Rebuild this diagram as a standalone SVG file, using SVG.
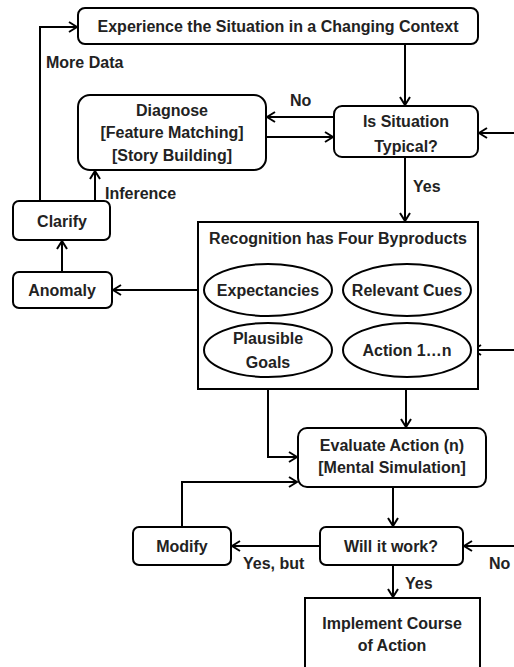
<svg xmlns="http://www.w3.org/2000/svg" width="514" height="667" viewBox="0 0 514 667">
<defs>
<style>
.box{fill:#fff;stroke:#000;stroke-width:2}
.t{font-family:"Liberation Sans",Arial,sans-serif;font-weight:bold;font-size:16px;fill:#222;text-anchor:middle;dominant-baseline:central}
.l{font-family:"Liberation Sans",Arial,sans-serif;font-weight:bold;font-size:16px;fill:#222;dominant-baseline:central}
.c{fill:none;stroke:#000;stroke-width:2}
</style>
<marker id="ah" viewBox="0 0 12 12" refX="11" refY="6" markerWidth="12" markerHeight="12" markerUnits="userSpaceOnUse" orient="auto">
<polyline points="3,1 11,6 3,11" fill="none" stroke="#000" stroke-width="2"/>
</marker>
</defs>
<rect width="514" height="667" fill="#fff"/>
<g id="connectors">
<polyline class="c" points="40,201 40,27 77,27" marker-end="url(#ah)"/>
<line class="c" x1="405" y1="44" x2="405" y2="105" marker-end="url(#ah)"/>
<line class="c" x1="334" y1="117" x2="267" y2="117" marker-end="url(#ah)"/>
<line class="c" x1="266" y1="137" x2="333" y2="137" marker-end="url(#ah)"/>
<line class="c" x1="514" y1="133" x2="479" y2="133" marker-end="url(#ah)"/>
<line class="c" x1="405" y1="157" x2="405" y2="221" marker-end="url(#ah)"/>
<line class="c" x1="95" y1="201" x2="95" y2="171" marker-end="url(#ah)"/>
<line class="c" x1="62" y1="272" x2="62" y2="241" marker-end="url(#ah)"/>
<line class="c" x1="204" y1="290" x2="113" y2="290" marker-end="url(#ah)"/>
<line class="c" x1="514" y1="350" x2="473" y2="350" marker-end="url(#ah)"/>
<line class="c" x1="406" y1="377" x2="406" y2="427" marker-end="url(#ah)"/>
<polyline class="c" points="268,377 268,457 297,457" marker-end="url(#ah)"/>
<polyline class="c" points="182,527 182,482 297,482" marker-end="url(#ah)"/>
<line class="c" x1="393" y1="487" x2="393" y2="526" marker-end="url(#ah)"/>
<line class="c" x1="320" y1="546" x2="232" y2="546" marker-end="url(#ah)"/>
<line class="c" x1="514" y1="546" x2="464" y2="546" marker-end="url(#ah)"/>
<line class="c" x1="393" y1="565" x2="393" y2="597" marker-end="url(#ah)"/>
<text class="l" x="46" y="62">More Data</text>
<text class="l" x="290" y="100">No</text>
<text class="l" x="413" y="186">Yes</text>
<text class="l" x="105" y="193">Inference</text>
<text class="l" x="243" y="563">Yes, but</text>
<text class="l" x="489" y="563">No</text>
<text class="l" x="405" y="583">Yes</text>
</g>
<g id="experience">
<rect class="box" x="78" y="8" width="400" height="36" rx="7"/>
<text class="t" x="278" y="26">Experience the Situation in a Changing Context</text>
</g>
<g id="typical">
<rect class="box" x="334" y="106" width="144" height="51" rx="8"/>
<text class="t" x="406" y="121">Is Situation</text>
<text class="t" x="406" y="146">Typical?</text>
</g>
<g id="diagnose">
<rect class="box" x="78" y="95" width="188" height="75" rx="12"/>
<text class="t" x="172" y="110">Diagnose</text>
<text class="t" x="172" y="132">[Feature Matching]</text>
<text class="t" x="172" y="155">[Story Building]</text>
</g>
<g id="clarify">
<rect class="box" x="13" y="201" width="97" height="39" rx="6"/>
<text class="t" x="62" y="221">Clarify</text>
</g>
<g id="anomaly">
<rect class="box" x="13" y="272" width="99" height="36" rx="6"/>
<text class="t" x="62" y="290">Anomaly</text>
</g>
<g id="recognition">
<rect class="box" x="198" y="222" width="280" height="167" stroke-width="2.5"/>
<text class="t" x="338" y="238">Recognition has Four Byproducts</text>
</g>
<g id="expectancies">
<ellipse class="box" cx="268" cy="290" rx="64" ry="26"/>
<text class="t" x="268" y="290">Expectancies</text>
</g>
<g id="cues">
<ellipse class="box" cx="407" cy="290" rx="64" ry="26"/>
<text class="t" x="407" y="290">Relevant Cues</text>
</g>
<g id="goals">
<ellipse class="box" cx="268" cy="350" rx="64" ry="27"/>
<text class="t" x="268" y="338">Plausible</text>
<text class="t" x="268" y="362">Goals</text>
</g>
<g id="action">
<ellipse class="box" cx="407" cy="350" rx="64" ry="27"/>
<text class="t" x="407" y="350">Action 1…n</text>
</g>
<g id="evaluate">
<rect class="box" x="298" y="428" width="188" height="59" rx="9"/>
<text class="t" x="392" y="445">Evaluate Action (n)</text>
<text class="t" x="392" y="467">[Mental Simulation]</text>
</g>
<g id="work">
<rect class="box" x="320" y="527" width="143" height="38" rx="6"/>
<text class="t" x="391" y="546">Will it work?</text>
</g>
<g id="modify">
<rect class="box" x="133" y="527" width="98" height="38" rx="6"/>
<text class="t" x="182" y="546">Modify</text>
</g>
<g id="implement">
<rect class="box" x="305" y="598" width="175" height="80"/>
<text class="t" x="392" y="623">Implement Course</text>
<text class="t" x="392" y="645">of Action</text>
</g>
</svg>
